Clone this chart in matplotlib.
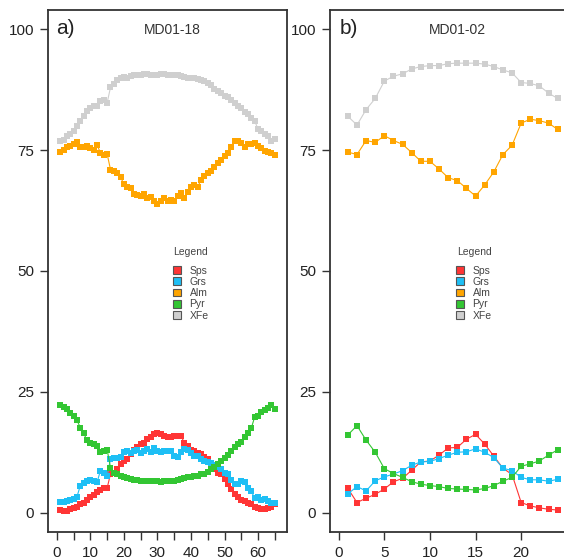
import matplotlib
matplotlib.use("Agg")
import matplotlib.pyplot as plt
from matplotlib.patches import Patch
import numpy as np

plt.rcParams["font.family"] = ["Liberation Sans", "DejaVu Sans"]

# Garnet end-member profiles (mol %) along two traverses
species = ["Sps", "Grs", "Alm", "Pyr", "XFe"]
colors = ["#ff3535", "#1ebff5", "#ffa500", "#33c633", "#cfcfcf"]

# MD01-18, points 1..65
sps_a = [0.55, 0.3, 0.4, 0.8, 1.0, 1.2, 1.7, 2.1, 2.6, 3.2, 3.6, 4.2, 4.7, 5.1, 5.1,
         8.0, 8.3, 9.0, 10.0, 10.7, 11.1, 12.1, 12.9, 13.5, 14.2, 14.5, 15.2, 15.6,
         16.3, 16.4, 16.3, 15.9, 15.7,
         15.7, 15.9, 15.9, 15.9, 14.5, 13.8, 12.9, 12.7, 12.3, 12.1, 11.6, 11.1, 10.1,
         9.0, 8.3, 7.9, 7.0, 5.9, 4.9, 3.9, 3.2, 2.6, 2.4, 2.1, 1.7, 1.2, 1.0, 0.8,
         0.8, 1.0, 1.1, 1.7]
grs_a = [2.3, 2.3, 2.5, 2.6, 2.8, 3.3, 5.6, 6.1, 6.5, 6.8, 6.6, 6.3, 8.7, 8.3, 7.6,
         11.1, 11.3, 11.4, 11.6, 12.5, 12.7, 12.3, 12.7, 12.9, 12.3, 12.8, 13.2, 12.5,
         13.4, 12.7, 12.5, 12.8, 12.8,
         12.7, 11.8, 11.6, 12.5, 13.2, 12.9, 12.3, 11.8, 11.8, 11.1, 10.6, 10.4, 10.2,
         9.9, 9.5, 9.0, 8.3, 8.0, 6.7, 5.9, 6.0, 6.5, 6.3, 5.1, 4.4, 3.0, 3.2, 2.6,
         2.8, 2.5, 2.1, 2.1]
alm_a = [74.6, 75.1, 75.6, 75.8, 76.3, 76.7, 75.6, 75.6, 75.8, 75.5, 75.1, 76.0, 74.5,
         74.0, 74.2, 71.0, 70.6, 70.3, 69.4, 68.0, 67.3, 67.1, 66.0, 65.8, 65.5, 66.0,
         65.2, 65.3, 64.5, 63.8, 64.5, 65.2, 64.5,
         64.6, 64.5, 65.5, 66.2, 65.2, 66.4, 67.3, 67.8, 67.3, 68.9, 69.6, 70.3, 70.6,
         71.5, 72.4, 72.9, 73.7, 74.4, 75.6, 76.8, 76.9, 76.5, 75.6, 76.2, 76.3, 76.5,
         75.8, 75.4, 74.9, 74.6, 74.5, 74.1]
pyr_a = [22.3, 21.9, 21.4, 20.7, 20.0, 19.1, 17.6, 16.4, 15.0, 14.5, 14.2, 13.8, 12.5,
         12.7, 13.0, 9.3, 8.3, 7.9, 7.6, 7.4, 7.2, 7.0, 6.7, 6.7, 6.6, 6.6, 6.5, 6.6,
         6.5, 6.6, 6.4, 6.5, 6.5,
         6.6, 6.6, 6.7, 6.9, 7.2, 7.3, 7.4, 7.6, 7.6, 7.9, 8.1, 8.5, 9.0, 9.5, 10.0,
         10.6, 11.3, 12.0, 12.8, 13.6, 14.2, 14.7, 15.7, 16.4, 17.5, 19.8, 20.0, 20.9,
         21.2, 21.6, 22.3, 21.4]
xfe_a = [76.9, 77.2, 77.9, 78.4, 78.9, 80.0, 81.1, 82.0, 83.2, 83.7,
         84.1, 84.2, 85.1, 85.3, 84.8, 88.0, 88.7, 89.6, 89.9, 90.1,
         90.0, 90.3, 90.5, 90.6, 90.6, 90.7, 90.7, 90.6, 90.5, 90.6,
         90.8, 90.8, 90.6, 90.6, 90.5, 90.5, 90.3, 90.1, 90.0, 89.9,
         89.9, 89.7, 89.6, 89.3, 88.9, 88.5, 87.7, 87.2, 86.8, 86.3,
         85.9, 85.3, 84.8, 84.2, 83.7, 82.9, 82.4, 81.6, 81.1, 79.3,
         78.9, 78.4, 77.9, 77.0, 77.4]

# MD01-02, points 1..24
sps_b = [5.0, 2.1, 3.0, 3.8, 4.9, 6.4, 7.1, 8.8, 10.5, 10.7, 11.9, 13.4, 13.5, 15.2,
         16.2, 14.2, 11.7, 9.2, 7.9, 2.1, 1.4, 1.0, 0.7, 0.55]
grs_b = [3.9, 5.4, 4.5, 6.6, 7.4, 8.0, 8.7, 9.8, 10.5, 10.6, 11.2, 11.9, 12.5, 12.6,
         13.2, 12.5, 11.4, 9.2, 8.7, 7.3, 6.8, 6.8, 6.5, 6.9]
alm_b = [74.6, 74.1, 77.0, 76.6, 78.0, 77.0, 76.2, 74.5, 72.7, 72.7, 71.1, 69.3, 68.7,
         67.1, 65.5, 67.8, 70.5, 74.1, 76.0, 80.6, 81.4, 81.1, 80.6, 79.3]
pyr_b = [16.1, 18.0, 15.0, 12.5, 9.1, 8.1, 7.3, 6.4, 5.9, 5.6, 5.4, 5.0, 4.9, 4.8,
         4.7, 5.0, 5.6, 6.5, 7.3, 9.6, 10.1, 10.7, 11.9, 13.0]
xfe_b = [82.0, 80.2, 83.4, 85.7, 89.3, 90.3, 90.8, 91.8, 92.3, 92.5, 92.5, 92.9, 93.0,
         93.0, 93.0, 92.8, 92.3, 91.6, 91.0, 89.0, 88.8, 88.3, 86.8, 85.7]

W, H = 564, 560
INK = "#222222"


def draw_panel(ax, series, letter, title, xmax, xticks, xlabels, title_x, letter_x):
    x = np.arange(1, len(series[0]) + 1)
    for vals, c in zip(series, colors):
        ax.plot(x, vals, "-s", color=c, lw=0.8, ms=3.8, mec=c, mew=0)

    ax.set_xlim(-0.04 * xmax, 1.04 * xmax)
    ax.set_ylim(-4, 104)
    ax.set_xticks(xticks)
    ax.set_xticklabels(xlabels)
    ax.set_yticks([0, 25, 50, 75, 100])
    ax.tick_params(direction="out", length=6, width=1, color="#333333",
                   labelsize=11, labelcolor=INK, pad=4)
    for sp in ax.spines.values():
        sp.set_color("#333333")
        sp.set_linewidth(1.3)

    ax.text(letter_x, 0.965, letter, transform=ax.transAxes, fontsize=15,
            color=INK, ha="left", va="center")
    ax.text(title_x, 0.962, title, transform=ax.transAxes, fontsize=10,
            color="#333333", ha="center", va="center")

    handles = [Patch(facecolor=c, edgecolor="#555555", linewidth=0.8) for c in colors]
    return handles


fig = plt.figure(figsize=(W / 100, H / 100), dpi=100)

ax_a = fig.add_axes([48 / W, 28 / H, 239 / W, 522 / H])
ax_b = fig.add_axes([330 / W, 28 / H, 236.4 / W, 522 / H])

ticks_a = list(range(0, 70, 5))
labels_a = [str(t) if t % 10 == 0 else "" for t in ticks_a]
h = draw_panel(ax_a, [sps_a, grs_a, alm_a, pyr_a, xfe_a], "a)", "MD01-18",
               66, ticks_a, labels_a, 0.519, 0.036)
draw_panel(ax_b, [sps_b, grs_b, alm_b, pyr_b, xfe_b], "b)", "MD01-02",
           24, [0, 5, 10, 15, 20], ["0", "5", "10", "15", "20"], 0.537, 0.04)

for ax, cx in ((ax_a, 191), (ax_b, 474)):
    leg = ax.legend(h, species, title="Legend", loc="center", frameon=False,
                    bbox_to_anchor=(cx / W, 1 - 284 / H),
                    bbox_transform=fig.transFigure,
                    fontsize=7.5, title_fontsize=7.5, handlelength=0.75,
                    handleheight=0.75, handletextpad=0.8, labelspacing=0.12,
                    borderpad=0)
    leg._legend_box.sep = 6
    for t in leg.get_texts():
        t.set_color("#444444")
    leg.get_title().set_color("#444444")

fig.savefig("out.png", dpi=100)
